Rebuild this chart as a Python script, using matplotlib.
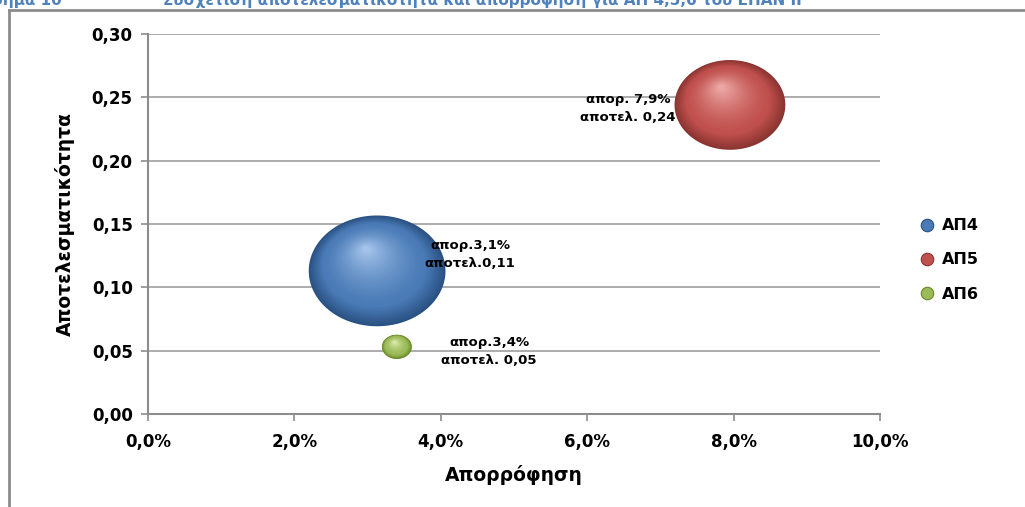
import numpy as np
import matplotlib
matplotlib.use("Agg")
import matplotlib.pyplot as plt
import matplotlib.colors as mcolors
from matplotlib.path import Path
from matplotlib.transforms import ScaledTranslation
from matplotlib.ticker import FuncFormatter
from matplotlib.lines import Line2D

plt.rcParams['font.family'] = ['DejaVu Sans']

# δεδομένα
series = ["ΑΠ4", "ΑΠ5", "ΑΠ6"]
absorption = [3.13, 7.95, 3.4]          # απορρόφηση (%)
effectiveness = [0.113, 0.244, 0.053]  # αποτελεσματικότητα
bubble_size = [1000, 656, 48]          # σχετικό μέγεθος φυσαλίδας
labels = ["απορ.3,1%\nαποτελ.0,11", "απορ. 7,9%\nαποτελ. 0,24", "απορ.3,4%\nαποτελ. 0,05"]
label_x = [4.4, 6.56, 4.66]
label_y = [0.126, 0.241, 0.0497]
base_colors = ["#4a7bb7", "#c0504d", "#9bbb59"]
dark_colors = ["#2a5183", "#8a3431", "#6a8a2a"]
light_colors = ["#a3c3ea", "#eda8a6", "#dcebae"]

fig = plt.figure(figsize=(10.25, 5.07), dpi=100)
ax = fig.add_axes([148 / 1025, 1 - 414 / 507, 732 / 1025, 380 / 507])

# ελλειπτικός δείκτης (λίγο πλατύτερος από ψηλός)
t = np.linspace(0, 2 * np.pi, 100)
ell = Path(np.column_stack([np.cos(t), 0.81 * np.sin(t)]), closed=True)

scale = 9.7  # pt^2 ανά μονάδα μεγέθους
n = 45
for i in range(3):
    s0 = bubble_size[i] * scale
    w = np.sqrt(s0)  # πλάτος σε pt
    c0 = np.array(mcolors.to_rgb(dark_colors[i]))
    c1 = np.array(mcolors.to_rgb(base_colors[i]))
    c2 = np.array(mcolors.to_rgb(light_colors[i]))
    for k in range(n):
        f = k / (n - 1)
        size = s0 * (1 - 0.95 * f) ** 2
        if f < 0.25:
            col = c0 + (c1 - c0) * (f / 0.25)
        else:
            col = c1 + (c2 - c1) * ((f - 0.25) / 0.75) ** 1.5
        dx = -0.08 * w * f / 72
        dy = 0.16 * w * f / 72
        tr = ax.transData + ScaledTranslation(dx, dy, fig.dpi_scale_trans)
        ax.scatter([absorption[i]], [effectiveness[i]], s=size, marker=ell,
                   color=col, edgecolors='none', linewidths=0, transform=tr,
                   zorder=3 + k * 0.001)

# ετικέτες δεδομένων
for i in range(3):
    ax.text(label_x[i], label_y[i], labels[i], ha='center', va='center', fontsize=9.5,
            fontweight='bold', linespacing=1.5, zorder=5)

ax.set_xlim(0, 10)
ax.set_ylim(0, 0.30)
ax.set_xticks(np.arange(0, 10.1, 2))
ax.set_yticks(np.arange(0, 0.301, 0.05))
ax.xaxis.set_major_formatter(FuncFormatter(lambda v, p: f"{v:.1f}%".replace('.', ',')))
ax.yaxis.set_major_formatter(FuncFormatter(lambda v, p: f"{v:.2f}".replace('.', ',')))
ax.grid(axis='y', color='#969696', linewidth=1.1)
ax.set_axisbelow(True)
for side in ['top', 'right']:
    ax.spines[side].set_visible(False)
for side in ['left', 'bottom']:
    ax.spines[side].set_color('#8c8c8c')
    ax.spines[side].set_linewidth(1.5)
ax.tick_params(axis='both', colors='#8c8c8c', length=5, width=1.2,
               labelcolor='black', labelsize=12)
ax.tick_params(axis='x', pad=9)
ax.tick_params(axis='y', pad=6)
for lab in ax.get_xticklabels() + ax.get_yticklabels():
    lab.set_fontweight('bold')

ax.set_xlabel("Απορρόφηση", fontsize=13.5, fontweight='bold', labelpad=10)
ax.set_ylabel("Αποτελεσματικότητα", fontsize=13.5, fontweight='bold', labelpad=12)

# υπόμνημα
handles = [Line2D([], [], marker='o', linestyle='none', markersize=9,
                  markerfacecolor=base_colors[i], markeredgecolor=dark_colors[i],
                  markeredgewidth=0.8) for i in range(3)]
fig.legend(handles, series, loc='center left', bbox_to_anchor=(905 / 1025, 1 - 260 / 507),
           frameon=False, prop={'weight': 'bold', 'size': 11.5},
           handletextpad=0.4, labelspacing=1.2, handlelength=1.0)

# πλαίσιο γραφήματος
fig.add_artist(Line2D([9 / 1025, 9 / 1025], [0, 1 - 10 / 507], color='#8c8c8c',
                      linewidth=2, transform=fig.transFigure))
fig.add_artist(Line2D([9 / 1025, 1], [1 - 10 / 507, 1 - 10 / 507], color='#8c8c8c',
                      linewidth=2, transform=fig.transFigure))

# τίτλος (κομμένος στο πάνω όριο, όπως στο πρωτότυπο)
fig.text(62 / 1025, 1 - 5 / 507, "Γράφημα 10", ha='right', va='baseline',
         color='#4f81bd', fontsize=11, fontweight='bold')
fig.text(163 / 1025, 1 - 5 / 507,
         "Συσχέτιση αποτελεσματικότητα και απορρόφηση για ΑΠ 4,5,6 του ΕΠΑΝ ΙΙ",
         ha='left', va='baseline', color='#4f81bd', fontsize=11, fontweight='bold')

fig.savefig("out.png", dpi=100)
